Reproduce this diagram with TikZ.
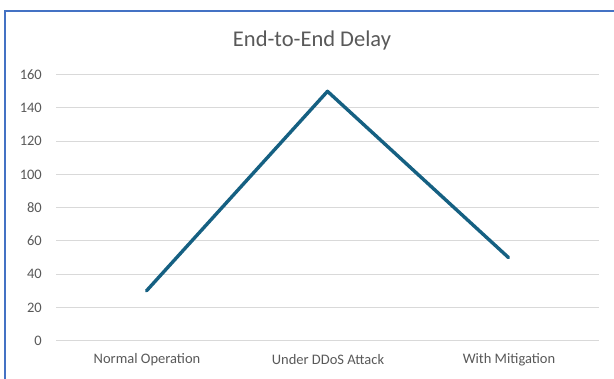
\documentclass[tikz,border=0pt]{standalone}
\usepackage{fontspec}
\setmainfont{Carlito}
\definecolor{frameblue}{HTML}{4472C4}
\definecolor{gridgray}{HTML}{D9D9D9}
\definecolor{txtgray}{HTML}{595959}
\definecolor{series}{HTML}{156082}
\begin{document}
\begin{tikzpicture}[x=1pt,y=-1pt,
  grid/.style={draw=gridgray,line width=0.9pt},
  ylab/.style={anchor=east,text=txtgray,font=\fontsize{14.5}{14.5}\selectfont,inner sep=0pt},
  xlab/.style={anchor=center,text=txtgray,font=\fontsize{14.5}{14.5}\selectfont,inner sep=0pt},
  serieline/.style={draw=series,line width=3.4pt,line join=round,line cap=round}]
\useasboundingbox (0,0) rectangle (614,379);
\fill[white] (0,0) rectangle (614,379);
\draw[frameblue,line width=2pt] (5,379) -- (5,11) -- (614,11);
\node[text=txtgray,font=\fontsize{22.5}{22.5}\selectfont,inner sep=0pt] (title) at (312,41) {End-to-End Delay};
\foreach \v [count=\i from 0] in {0,20,40,60,80,100,120,140,160} {
  \coordinate (gl\i) at (56,{340.7-33.25*\i});
  \coordinate (gr\i) at (599,{340.7-33.25*\i});
  \draw[grid] (gl\i) -- (gr\i);
  \node[ylab] (yl\i) at (42,{340.7-33.25*\i}) {\v};
}
\node[xlab] (c1) at (147,360) {Normal Operation};
\node[xlab] (c2) at (328,360) {Under DDoS Attack};
\node[xlab] (c3) at (509,360) {With Mitigation};
\coordinate (p1) at (146.5,{340.7-33.25*1.5});
\coordinate (p2) at (327.5,{340.7-33.25*7.5});
\coordinate (p3) at (508.5,{340.7-33.25*2.5});
\draw[serieline] (p1) -- (p2) -- (p3);
\end{tikzpicture}
\end{document}
